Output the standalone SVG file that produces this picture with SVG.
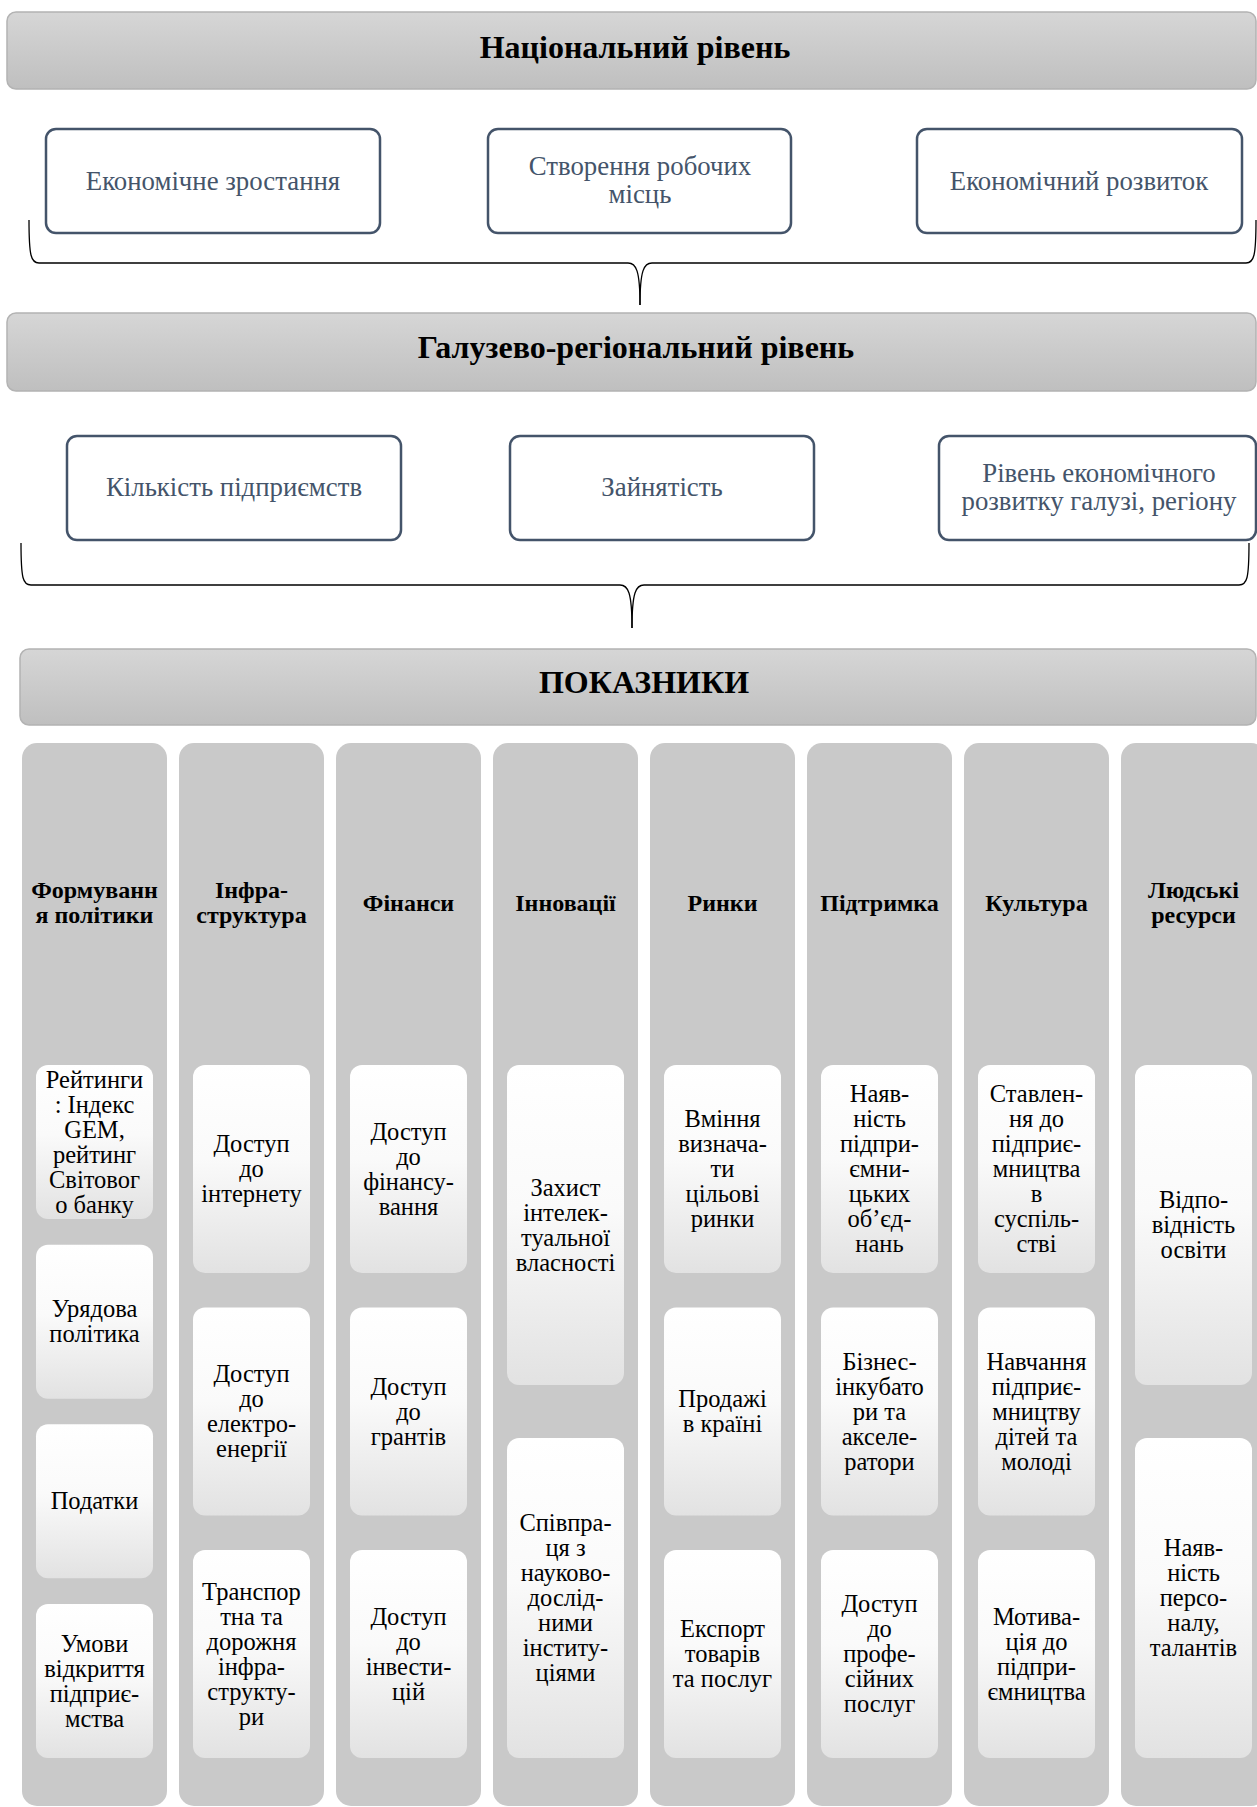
<svg xmlns="http://www.w3.org/2000/svg" width="1257" height="1807" viewBox="0 0 1257 1807">
<defs>
<linearGradient id="gBanner" x1="0" y1="0" x2="0" y2="1">
<stop offset="0" stop-color="#d6d6d6"/>
<stop offset="1" stop-color="#bfbfbf"/>
</linearGradient>
<linearGradient id="gItem" x1="0" y1="0" x2="0" y2="1">
<stop offset="0" stop-color="#ffffff"/>
<stop offset="0.45" stop-color="#fafafa"/>
<stop offset="1" stop-color="#e2e2e2"/>
</linearGradient>
</defs>
<style>
text{font-family:"Liberation Serif","DejaVu Serif",serif}
.banner{fill:url(#gBanner);stroke:#b3b3b3;stroke-width:1.5}
.htitle{font-weight:bold;font-size:32px;fill:#000;text-anchor:middle}
.lvl{fill:#fff;stroke:#44546a;stroke-width:2.5}
.lvltxt{font-size:26.8px;fill:#44546a;text-anchor:middle}
.col{fill:#c9c9c9}
.colh{font-weight:bold;font-size:24px;fill:#000;text-anchor:middle}
.item{fill:url(#gItem)}
.itxt{font-size:24.5px;fill:#000;text-anchor:middle}
.brace{fill:none;stroke:#000;stroke-width:1.3}
</style>
<rect width="1257" height="1807" fill="#fff"/>

<g id="connectors">
<path class="brace" d="M29 220 C29 256 31 263 39 263 L628 263 C636 263 640 270 640 305"/>
<path class="brace" d="M1256 220 C1256 256 1254 263 1246 263 L652 263 C644 263 640 270 640 305"/>
<path class="brace" d="M21 543 C21 579 23 585 31 585 L620 585 C628 585 632 592 632 628"/>
<path class="brace" d="M1249 543 C1249 579 1247 585 1239 585 L644 585 C636 585 632 592 632 628"/>
</g>

<g id="national">
<rect class="banner" x="7" y="12" width="1249" height="77" rx="9"/>
<text class="htitle" x="635" y="58">Національний рівень</text>
</g>
<g id="n-growth">
<rect class="lvl" x="46" y="129" width="334" height="104" rx="10"/>
<text class="lvltxt" x="213" y="190">Економічне зростання</text>
</g>
<g id="n-jobs">
<rect class="lvl" x="488" y="129" width="303" height="104" rx="10"/>
<text class="lvltxt" x="640" y="175">Створення робочих<tspan x="640" dy="28">місць</tspan></text>
</g>
<g id="n-dev">
<rect class="lvl" x="917" y="129" width="325" height="104" rx="10"/>
<text class="lvltxt" x="1079" y="190">Економічний розвиток</text>
</g>

<g id="regional">
<rect class="banner" x="7" y="313" width="1249" height="78" rx="9"/>
<text class="htitle" x="636" y="358">Галузево-регіональний рівень</text>
</g>
<g id="r-count">
<rect class="lvl" x="67" y="436" width="334" height="104" rx="10"/>
<text class="lvltxt" x="234" y="496">Кількість підприємств</text>
</g>
<g id="r-employ">
<rect class="lvl" x="510" y="436" width="304" height="104" rx="10"/>
<text class="lvltxt" x="662" y="496">Зайнятість</text>
</g>
<g id="r-level">
<rect class="lvl" x="939" y="436" width="317" height="104" rx="10"/>
<text class="lvltxt" x="1099" y="482">Рівень економічного<tspan x="1099" dy="28">розвитку галузі, регіону</tspan></text>
</g>

<g id="indicators">
<rect class="banner" x="20" y="649" width="1236" height="76" rx="9"/>
<text class="htitle" x="644" y="693">ПОКАЗНИКИ</text>
</g>

<g id="col-policy">
<rect class="col" x="22" y="743" width="145" height="1063" rx="15"/>
<text class="colh" x="94.5" y="898">Формуванн<tspan x="94.5" dy="25">я політики</tspan></text>
<rect class="item" x="36" y="1065" width="117" height="154" rx="12"/>
<text class="itxt" x="94.5" y="1087.5">Рейтинги<tspan x="94.5" dy="25">: Індекс</tspan><tspan x="94.5" dy="25">GEM,</tspan><tspan x="94.5" dy="25">рейтинг</tspan><tspan x="94.5" dy="25">Світовог</tspan><tspan x="94.5" dy="25">о банку</tspan></text>
<rect class="item" x="36" y="1244.7" width="117" height="154" rx="12"/>
<text class="itxt" x="94.5" y="1317.2">Урядова<tspan x="94.5" dy="25">політика</tspan></text>
<rect class="item" x="36" y="1424.3" width="117" height="154" rx="12"/>
<text class="itxt" x="94.5" y="1509.3">Податки</text>
<rect class="item" x="36" y="1604" width="117" height="154" rx="12"/>
<text class="itxt" x="94.5" y="1651.5">Умови<tspan x="94.5" dy="25">відкриття</tspan><tspan x="94.5" dy="25">підприє-</tspan><tspan x="94.5" dy="25">мства</tspan></text>
</g>

<g id="col-infra">
<rect class="col" x="179" y="743" width="145" height="1063" rx="15"/>
<text class="colh" x="251.5" y="898">Інфра-<tspan x="251.5" dy="25">структура</tspan></text>
<rect class="item" x="193" y="1065" width="117" height="208" rx="12"/>
<text class="itxt" x="251.5" y="1152">Доступ<tspan x="251.5" dy="25">до</tspan><tspan x="251.5" dy="25">інтернету</tspan></text>
<rect class="item" x="193" y="1307.5" width="117" height="208" rx="12"/>
<text class="itxt" x="251.5" y="1382">Доступ<tspan x="251.5" dy="25">до</tspan><tspan x="251.5" dy="25">електро-</tspan><tspan x="251.5" dy="25">енергії</tspan></text>
<rect class="item" x="193" y="1550" width="117" height="208" rx="12"/>
<text class="itxt" x="251.5" y="1599.5">Транспор<tspan x="251.5" dy="25">тна та</tspan><tspan x="251.5" dy="25">дорожня</tspan><tspan x="251.5" dy="25">інфра-</tspan><tspan x="251.5" dy="25">структу-</tspan><tspan x="251.5" dy="25">ри</tspan></text>
</g>

<g id="col-finance">
<rect class="col" x="336" y="743" width="145" height="1063" rx="15"/>
<text class="colh" x="408.5" y="911">Фінанси</text>
<rect class="item" x="350" y="1065" width="117" height="208" rx="12"/>
<text class="itxt" x="408.5" y="1139.5">Доступ<tspan x="408.5" dy="25">до</tspan><tspan x="408.5" dy="25">фінансу-</tspan><tspan x="408.5" dy="25">вання</tspan></text>
<rect class="item" x="350" y="1307.5" width="117" height="208" rx="12"/>
<text class="itxt" x="408.5" y="1394.5">Доступ<tspan x="408.5" dy="25">до</tspan><tspan x="408.5" dy="25">грантів</tspan></text>
<rect class="item" x="350" y="1550" width="117" height="208" rx="12"/>
<text class="itxt" x="408.5" y="1624.5">Доступ<tspan x="408.5" dy="25">до</tspan><tspan x="408.5" dy="25">інвести-</tspan><tspan x="408.5" dy="25">цій</tspan></text>
</g>

<g id="col-innov">
<rect class="col" x="493" y="743" width="145" height="1063" rx="15"/>
<text class="colh" x="565.5" y="911">Інновації</text>
<rect class="item" x="507" y="1065" width="117" height="320" rx="12"/>
<text class="itxt" x="565.5" y="1195.5">Захист<tspan x="565.5" dy="25">інтелек-</tspan><tspan x="565.5" dy="25">туальної</tspan><tspan x="565.5" dy="25">власності</tspan></text>
<rect class="item" x="507" y="1438" width="117" height="320" rx="12"/>
<text class="itxt" x="565.5" y="1531">Співпра-<tspan x="565.5" dy="25">ця з</tspan><tspan x="565.5" dy="25">науково-</tspan><tspan x="565.5" dy="25">дослід-</tspan><tspan x="565.5" dy="25">ними</tspan><tspan x="565.5" dy="25">інститу-</tspan><tspan x="565.5" dy="25">ціями</tspan></text>
</g>

<g id="col-markets">
<rect class="col" x="650" y="743" width="145" height="1063" rx="15"/>
<text class="colh" x="722.5" y="911">Ринки</text>
<rect class="item" x="664" y="1065" width="117" height="208" rx="12"/>
<text class="itxt" x="722.5" y="1127">Вміння<tspan x="722.5" dy="25">визнача-</tspan><tspan x="722.5" dy="25">ти</tspan><tspan x="722.5" dy="25">цільові</tspan><tspan x="722.5" dy="25">ринки</tspan></text>
<rect class="item" x="664" y="1307.5" width="117" height="208" rx="12"/>
<text class="itxt" x="722.5" y="1407">Продажі<tspan x="722.5" dy="25">в країні</tspan></text>
<rect class="item" x="664" y="1550" width="117" height="208" rx="12"/>
<text class="itxt" x="722.5" y="1637">Експорт<tspan x="722.5" dy="25">товарів</tspan><tspan x="722.5" dy="25">та послуг</tspan></text>
</g>

<g id="col-support">
<rect class="col" x="807" y="743" width="145" height="1063" rx="15"/>
<text class="colh" x="879.5" y="911">Підтримка</text>
<rect class="item" x="821" y="1065" width="117" height="208" rx="12"/>
<text class="itxt" x="879.5" y="1102">Наяв-<tspan x="879.5" dy="25">ність</tspan><tspan x="879.5" dy="25">підпри-</tspan><tspan x="879.5" dy="25">ємни-</tspan><tspan x="879.5" dy="25">цьких</tspan><tspan x="879.5" dy="25">об’єд-</tspan><tspan x="879.5" dy="25">нань</tspan></text>
<rect class="item" x="821" y="1307.5" width="117" height="208" rx="12"/>
<text class="itxt" x="879.5" y="1369.5">Бізнес-<tspan x="879.5" dy="25">інкубато</tspan><tspan x="879.5" dy="25">ри та</tspan><tspan x="879.5" dy="25">акселе-</tspan><tspan x="879.5" dy="25">ратори</tspan></text>
<rect class="item" x="821" y="1550" width="117" height="208" rx="12"/>
<text class="itxt" x="879.5" y="1612">Доступ<tspan x="879.5" dy="25">до</tspan><tspan x="879.5" dy="25">профе-</tspan><tspan x="879.5" dy="25">сійних</tspan><tspan x="879.5" dy="25">послуг</tspan></text>
</g>

<g id="col-culture">
<rect class="col" x="964" y="743" width="145" height="1063" rx="15"/>
<text class="colh" x="1036.5" y="911">Культура</text>
<rect class="item" x="978" y="1065" width="117" height="208" rx="12"/>
<text class="itxt" x="1036.5" y="1102">Ставлен-<tspan x="1036.5" dy="25">ня до</tspan><tspan x="1036.5" dy="25">підприє-</tspan><tspan x="1036.5" dy="25">мництва</tspan><tspan x="1036.5" dy="25">в</tspan><tspan x="1036.5" dy="25">суспіль-</tspan><tspan x="1036.5" dy="25">стві</tspan></text>
<rect class="item" x="978" y="1307.5" width="117" height="208" rx="12"/>
<text class="itxt" x="1036.5" y="1369.5">Навчання<tspan x="1036.5" dy="25">підприє-</tspan><tspan x="1036.5" dy="25">мництву</tspan><tspan x="1036.5" dy="25">дітей та</tspan><tspan x="1036.5" dy="25">молоді</tspan></text>
<rect class="item" x="978" y="1550" width="117" height="208" rx="12"/>
<text class="itxt" x="1036.5" y="1624.5">Мотива-<tspan x="1036.5" dy="25">ція до</tspan><tspan x="1036.5" dy="25">підпри-</tspan><tspan x="1036.5" dy="25">ємництва</tspan></text>
</g>

<g id="col-human">
<rect class="col" x="1121" y="743" width="145" height="1063" rx="15"/>
<text class="colh" x="1193.5" y="898">Людські<tspan x="1193.5" dy="25">ресурси</tspan></text>
<rect class="item" x="1135" y="1065" width="117" height="320" rx="12"/>
<text class="itxt" x="1193.5" y="1208">Відпо-<tspan x="1193.5" dy="25">відність</tspan><tspan x="1193.5" dy="25">освіти</tspan></text>
<rect class="item" x="1135" y="1438" width="117" height="320" rx="12"/>
<text class="itxt" x="1193.5" y="1556">Наяв-<tspan x="1193.5" dy="25">ність</tspan><tspan x="1193.5" dy="25">персо-</tspan><tspan x="1193.5" dy="25">налу,</tspan><tspan x="1193.5" dy="25">талантів</tspan></text>
</g>
</svg>
